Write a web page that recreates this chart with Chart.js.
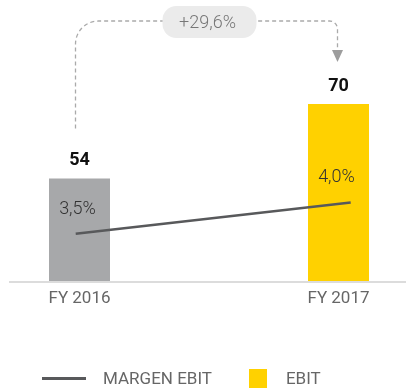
<!DOCTYPE html>
<html>
<head>
<meta charset="utf-8">
<script src="https://cdn.jsdelivr.net/npm/chart.js@4.4.1/dist/chart.umd.min.js"></script>
<style>
  body { margin: 0; background: #fff; overflow: hidden; }
  #wrap { position: relative; width: 406px; height: 388px; }
  #legend {
    position: absolute; left: 42px; top: 368px; height: 20px;
    display: flex; align-items: center;
    font: 400 17px Roboto, sans-serif; color: #666;
  }
  #legend .item { display: flex; align-items: center; }
  #legend .item + .item { margin-left: 37px; }
</style>
</head>
<body>
<div id="wrap">
  <canvas id="chart" width="406" height="388"></canvas>
  <div id="legend"></div>
</div>
<script>
const years = ["FY 2016", "FY 2017"];
const ebit = [54, 70];
const ebitMargin = [3.5, 4.0];
const barColors = ["#a7a8aa", "#ffd100"];

// the EBIT axis does not start at zero
const ebitMin = 32;
const ebitMax = 88;

const fmt = (v) => v.toFixed(1).replace(".", ",");

// value labels over bars, margin labels over the line, growth connector
const annotations = {
  id: "annotations",
  beforeDatasetsDraw(chart) {
    const ctx = chart.ctx;
    const y = chart.chartArea.bottom + 1;
    ctx.save();
    ctx.strokeStyle = "#dcdcdc";
    ctx.lineWidth = 2;
    ctx.beginPath();
    ctx.moveTo(9, y);
    ctx.lineTo(chart.width, y);
    ctx.stroke();
    ctx.restore();
  },
  afterDatasetsDraw(chart) {
    const ctx = chart.ctx;
    const line = chart.getDatasetMeta(0).data;
    const bars = chart.getDatasetMeta(1).data;
    ctx.save();
    ctx.textAlign = "center";
    ctx.textBaseline = "middle";

    bars.forEach((bar, i) => {
      ctx.font = "700 18px Roboto, sans-serif";
      ctx.fillStyle = "#111";
      ctx.fillText(String(ebit[i]), bar.x, bar.y - 17.5);
      ctx.font = "300 18px Roboto, sans-serif";
      ctx.fillStyle = "#333";
      ctx.fillText(fmt(ebitMargin[i]) + "%", bar.x - 2, line[i].y - 24.5);
    });

    // dashed connector between the two bars
    const from = bars[0], to = bars[1];
    const topY = 21;
    const x1 = from.x - 4, x2 = to.x - 1;
    const r1 = 23, r2 = 8;
    ctx.strokeStyle = "#aaa";
    ctx.lineWidth = 1.3;
    ctx.setLineDash([4, 3]);
    ctx.beginPath();
    ctx.moveTo(x1, from.y - 50);
    ctx.lineTo(x1, topY + r1);
    ctx.arcTo(x1, topY, x1 + r1, topY, r1);
    ctx.lineTo(x2 - r2, topY);
    ctx.arcTo(x2, topY, x2, topY + r2, r2);
    ctx.lineTo(x2, to.y - 54);
    ctx.stroke();
    ctx.setLineDash([]);

    ctx.fillStyle = "#9d9d9d";
    ctx.beginPath();
    ctx.moveTo(x2 - 5.5, to.y - 54);
    ctx.lineTo(x2 + 5.5, to.y - 54);
    ctx.lineTo(x2, to.y - 42);
    ctx.closePath();
    ctx.fill();

    const growth = (ebit[1] / ebit[0] - 1) * 100;
    const cx = (x1 + x2) / 2 + 3;
    ctx.fillStyle = "#ebebeb";
    ctx.beginPath();
    ctx.roundRect(cx - 47, topY - 15, 94, 32, 14);
    ctx.fill();
    ctx.font = "300 18px Roboto, sans-serif";
    ctx.fillStyle = "#777";
    ctx.fillText("+" + fmt(growth) + "%", cx - 2, topY + 2);
    ctx.restore();
  },
};

const chart = new Chart(document.getElementById("chart"), {
  type: "bar",
  data: {
    labels: years,
    datasets: [
      {
        type: "line",
        label: "MARGEN EBIT",
        data: ebitMargin.map((v, i) => ({ x: i, y: v })),
        xAxisID: "xl",
        yAxisID: "yl",
        borderColor: "#58595b",
        backgroundColor: "#58595b",
        borderWidth: 2.5,
        pointRadius: 0,
        fill: false,
        clip: false,
      },
      {
        type: "bar",
        label: "EBIT",
        data: ebit,
        xAxisID: "x",
        yAxisID: "y",
        base: ebitMin,
        backgroundColor: barColors,
        grouped: false,
        maxBarThickness: 61,
        clip: false,
      },
    ],
  },
  options: {
    responsive: false,
    animation: false,
    devicePixelRatio: 1,
    layout: { padding: { left: 79.5, right: 67.5, top: 20, bottom: 70.6 } },
    scales: {
      x: {
        offset: false,
        grid: { display: false, drawTicks: false },
        border: { display: false },
        ticks: { color: "#666", padding: 8, font: { family: "Roboto", size: 17 } },
      },
      xl: { type: "linear", position: "bottom", display: false, offset: false, min: 0.0138, max: 0.9556 },
      y: { display: false, beginAtZero: false, min: ebitMin, max: ebitMax },
      yl: { display: false, min: 2.75, max: 6.9 },
    },
    plugins: {
      legend: { display: false },
      tooltip: { enabled: false },
    },
  },
  plugins: [annotations],
});

// legend: line swatch for the margin, square for EBIT
const legend = document.getElementById("legend");
chart.data.datasets.forEach((ds) => {
  const item = document.createElement("span");
  item.className = "item";
  const sw = document.createElement("span");
  if (ds.type === "line") {
    sw.style.cssText = `width:44px;height:3px;margin-right:17px;background:${ds.borderColor}`;
  } else {
    sw.style.cssText = `width:18px;height:19px;margin-right:19px;background:${barColors[1]}`;
  }
  item.appendChild(sw);
  item.appendChild(document.createTextNode(ds.label));
  legend.appendChild(item);
});
</script>
</body>
</html>
